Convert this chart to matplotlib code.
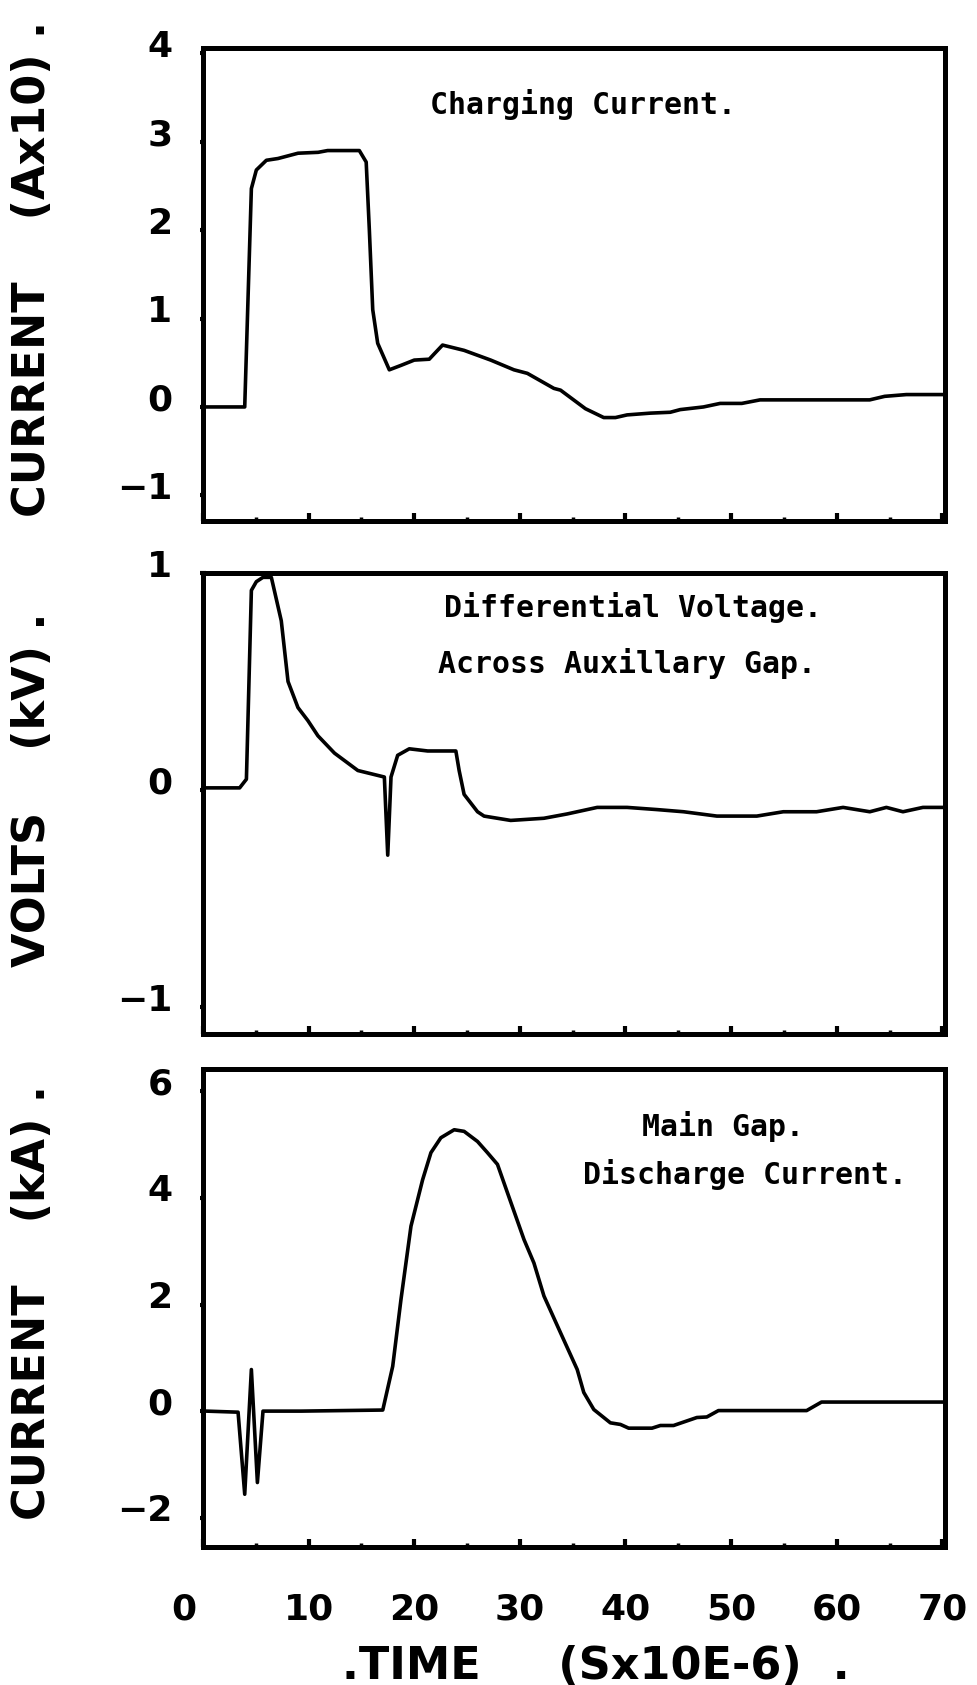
import matplotlib
matplotlib.use("Agg")
import matplotlib.pyplot as plt
import matplotlib.transforms as mtrans
from matplotlib.font_manager import FontProperties
from matplotlib.ticker import MultipleLocator

plt.rcParams['axes.unicode_minus'] = False

# ---------------- data ----------------
# Panel 1: charging current (A x10)
t_charge = [0.3, 3.95, 4.58, 5.05, 6.0, 7.1, 9.0, 10.9, 11.8, 14.8, 15.45, 15.75, 16.07,
            16.54, 17.64, 18.74, 20.0, 21.42, 21.89, 22.68, 24.72, 27.24, 29.44, 30.71,
            33.22, 33.85, 36.21, 37.94, 39.05, 40.15, 42.35, 44.24, 45.18, 47.38, 48.96,
            51.01, 52.74, 57.77, 63.12, 64.54, 66.59, 70.0]
i_charge = [0.0, 0.0, 2.47, 2.68, 2.79, 2.81, 2.87, 2.88, 2.90, 2.90, 2.77, 2.0, 1.10,
            0.72, 0.42, 0.47, 0.53, 0.54, 0.60, 0.70, 0.64, 0.53, 0.42, 0.38,
            0.21, 0.19, -0.02, -0.12, -0.12, -0.09, -0.07, -0.06, -0.03, 0.0, 0.04,
            0.04, 0.08, 0.08, 0.08, 0.12, 0.14, 0.14]

# Panel 2: differential voltage across auxiliary gap (kV)
t_volt = [0.3, 3.47, 4.11, 4.58, 5.05, 5.68, 6.47, 7.41, 8.05, 8.99, 9.93, 10.88, 12.45,
          14.66, 17.17, 17.49, 17.8, 18.43, 19.53, 21.27, 23.94, 24.25, 24.72, 25.99,
          26.61, 29.13, 32.28, 34.49, 37.32, 40.15, 42.98, 45.5, 48.65, 52.43, 54.94,
          58.09, 60.6, 63.13, 64.7, 66.27, 68.16, 70.0]
v_volt = [0.01, 0.01, 0.05, 0.92, 0.96, 0.98, 0.98, 0.78, 0.50, 0.38, 0.32, 0.25, 0.17,
          0.09, 0.06, -0.30, 0.06, 0.16, 0.19, 0.18, 0.18, 0.09, -0.02, -0.10,
          -0.12, -0.14, -0.13, -0.11, -0.08, -0.08, -0.09, -0.10, -0.12, -0.12, -0.10,
          -0.10, -0.08, -0.10, -0.08, -0.10, -0.08, -0.08]

# Panel 3: main gap discharge current (kA)
t_main = [0.3, 3.32, 3.95, 4.58, 5.15, 5.68, 9.3, 17.02, 17.96, 18.74, 19.69, 20.79,
          21.58, 22.52, 23.78, 24.72, 25.99, 26.93, 27.88, 28.82, 30.39, 31.33, 32.28,
          33.85, 35.43, 36.05, 37.0, 38.57, 39.52, 40.3, 42.51, 43.3, 44.55, 46.76,
          47.7, 48.8, 57.15, 58.56, 70.0]
i_main = [0.0, -0.02, -1.56, 0.78, -1.34, 0.0, 0.0, 0.02, 0.84, 2.09, 3.47, 4.34,
          4.85, 5.13, 5.28, 5.25, 5.06, 4.85, 4.63, 4.10, 3.22, 2.78, 2.16,
          1.47, 0.78, 0.35, 0.03, -0.22, -0.25, -0.32, -0.32, -0.27, -0.27, -0.12,
          -0.11, 0.01, 0.01, 0.17, 0.17]

x_ticks = [0, 10, 20, 30, 40, 50, 60, 70]
x_ticklabels = ["0", "10", "20", "30", "40", "50", "60", "70"]
y1_ticks = [-1, 0, 1, 2, 3, 4]
y1_ticklabels = ["\u22121", "0", "1", "2", "3", "4"]
y2_ticks = [-1, 0, 1]
y2_ticklabels = ["\u22121", "0", "1"]
y3_ticks = [-2, 0, 2, 4, 6]
y3_ticklabels = ["\u22122", "0", "2", "4", "6"]

ylabels = ["CURRENT    (Ax10) .", "VOLTS    (kV) .", "CURRENT    (kA) ."]
xlabel = ".TIME     (Sx10E-6)  ."
notes1 = ["Charging Current."]
notes2 = ["Differential Voltage.", "Across Auxillary Gap."]
notes3 = ["Main Gap.", "Discharge Current."]

# ---------------- figure ----------------
W, H = 977, 1685
fig = plt.figure(figsize=(W / 100, H / 100), dpi=100)

AX_L, AX_R = 203, 945
# (top_px, bottom_px)
boxes = [(48, 521), (573, 1034), (1069, 1547)]
ylims = [(-1.29, 4.06), (-1.124, 1.0), (-2.55, 6.42)]
axes = []
for top, bot in boxes:
    ax = fig.add_axes([AX_L / W, 1 - bot / H, (AX_R - AX_L) / W, (bot - top) / H])
    axes.append(ax)


def ax_xy(i, x, y):
    top, bot = boxes[i]
    return (x - AX_L) / (AX_R - AX_L), (bot - y) / (bot - top)


ax1, ax2, ax3 = axes
lw = 2.6
ax1.plot(t_charge, i_charge, color='black', lw=lw, solid_joinstyle='round')
ax2.plot(t_volt, v_volt, color='black', lw=lw, solid_joinstyle='round')
ax3.plot(t_main, i_main, color='black', lw=lw, solid_joinstyle='round')

tick_font = dict(family='DejaVu Sans', weight='bold', size=26)
label_font = dict(family='DejaVu Sans', weight='bold', size=32)
note_font = dict(family='DejaVu Sans Mono', weight='bold', size=21.5)

yticks = [(y1_ticks, y1_ticklabels, 0.5), (y2_ticks, y2_ticklabels, 0.2), (y3_ticks, y3_ticklabels, 1)]
for ax, (yt, ytl, ymin), yl, lim in zip(axes, yticks, ylabels, ylims):
    ax.set_xlim(0.1, 70.25)
    ax.set_ylim(*lim)
    for s in ax.spines.values():
        s.set_linewidth(3.6)
    ax.set_xticks(x_ticks)
    ax.xaxis.set_minor_locator(MultipleLocator(5))
    ax.tick_params(axis='x', which='major', direction='in', length=6, width=3,
                   top=False, bottom=True, pad=33)
    ax.tick_params(axis='x', which='minor', direction='in', length=3, width=2.5,
                   top=False, bottom=True)
    ax.set_yticks(yt, labels=ytl)
    ax.yaxis.set_minor_locator(MultipleLocator(ymin))
    ax.tick_params(axis='y', which='major', direction='inout', length=4, width=3,
                   left=True, right=False, pad=20)
    ax.tick_params(axis='y', which='minor', direction='inout', length=3, width=2,
                   left=True, right=False)
    for lab in ax.get_yticklabels():
        lab.set_fontproperties(FontProperties(**tick_font))
    ax.set_ylabel(yl, **label_font, va='center')

ax1.tick_params(axis='x', labelbottom=False)
ax2.tick_params(axis='x', labelbottom=False)
ax3.set_xticks(x_ticks, labels=x_ticklabels)
for lab in ax3.get_xticklabels():
    lab.set_fontproperties(FontProperties(**tick_font))

# y label positions
ax1.yaxis.set_label_coords(*ax_xy(0, 33, 269))
ax2.yaxis.set_label_coords(*ax_xy(1, 33, 790))
ax3.yaxis.set_label_coords(*ax_xy(2, 33, 1303))

ax3.set_xlabel(xlabel, **label_font)
ax3.xaxis.set_label_coords(*ax_xy(2, 596, 1666))
ax3.xaxis.label.set_va('center')

# tick label offsets as in the plotter output
up = mtrans.ScaledTranslation(0, 10 / 100, fig.dpi_scale_trans)
for ax in axes:
    for lab in ax.get_yticklabels():
        lab.set_transform(lab.get_transform() + up)
xl = ax3.get_xticklabels()
xl[0].set_transform(xl[0].get_transform() + mtrans.ScaledTranslation(-19 / 100, 0, fig.dpi_scale_trans))

# annotations
ax1.text(*ax_xy(0, 430, 105), notes1[0], transform=ax1.transAxes, ha='left', va='center', **note_font)
ax2.text(*ax_xy(1, 444, 607), notes2[0], transform=ax2.transAxes, ha='left', va='center', **note_font)
ax2.text(*ax_xy(1, 438, 663), notes2[1], transform=ax2.transAxes, ha='left', va='center', **note_font)
ax3.text(*ax_xy(2, 642, 1126), notes3[0], transform=ax3.transAxes, ha='left', va='center', **note_font)
ax3.text(*ax_xy(2, 583, 1174), notes3[1], transform=ax3.transAxes, ha='left', va='center', **note_font)

fig.savefig("out.png", dpi=100, facecolor='white')
